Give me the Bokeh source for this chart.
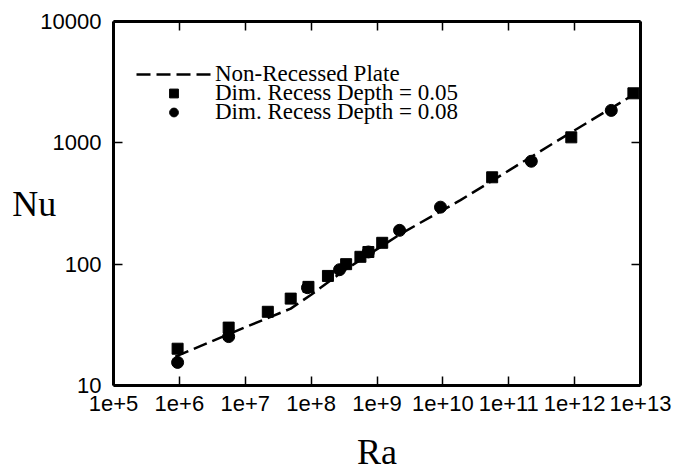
from bokeh.plotting import figure
from bokeh.models import Range1d, LogAxis, FixedTicker, Legend, LegendItem
from bokeh.embed import file_html
from bokeh.resources import INLINE

# Non-recessed plate correlation (dashed line)
ra_line = [8.7e5, 1.0e7, 4.9e7, 1.0e8, 3.3e8, 2.3e9, 1.85e10, 4.3e11, 8.9e12]
nu_line = [17.3, 30.2, 43, 56, 90, 178, 337, 960, 2600]

# Dim. recess depth = 0.05 (squares)
ra_sq = [9.4e5, 5.6e6, 2.2e7, 4.9e7, 9.1e7, 1.8e8, 3.4e8, 5.6e8, 7.4e8, 1.2e9, 5.6e10, 8.9e11, 7.8e12]
nu_sq = [20.1, 30, 40.5, 52, 65, 80, 100, 115, 126, 150, 520, 1110, 2560]

# Dim. recess depth = 0.08 (circles)
ra_ci = [9.4e5, 5.6e6, 8.8e7, 2.7e8, 7.4e8, 2.2e9, 9.2e9, 2.2e11, 3.6e12]
nu_ci = [15.5, 25.3, 64, 90, 126, 190, 295, 705, 1850]

x_ticks = [1e5, 1e6, 1e7, 1e8, 1e9, 1e10, 1e11, 1e12, 1e13]
x_tick_labels = ["1e+5", "1e+6", "1e+7", "1e+8", "1e+9", "1e+10", "1e+11", "1e+12", "1e+13"]
y_ticks = [10, 100, 1000, 10000]
y_tick_labels = ["10", "100", "1000", "10000"]
legend_labels = ["Non-Recessed Plate", "Dim. Recess Depth = 0.05", "Dim. Recess Depth = 0.08"]

p = figure(width=673, height=474, x_axis_type="log", y_axis_type="log",
           x_range=Range1d(1e5, 1e13), y_range=Range1d(10, 10000),
           output_backend="svg", toolbar_location=None,
           min_border_left=113, min_border_right=33, min_border_top=21, min_border_bottom=88)
p.background_fill_color = "white"
p.border_fill_color = "white"
p.outline_line_color = None
p.grid.visible = False

ln = p.line(ra_line, nu_line, line_color="black", line_width=2.5, line_dash="14 6")
sq = p.scatter(ra_sq, nu_sq, marker="square", size=11, fill_color="black", line_color="black")
ci = p.scatter(ra_ci, nu_ci, marker="circle", size=12, fill_color="black", line_color="black")

def style(ax, labels=True):
    ax.axis_line_width = 3
    ax.axis_line_color = "black"
    ax.major_tick_in = 9
    ax.major_tick_out = 0
    ax.major_tick_line_width = 1.5
    ax.minor_tick_line_color = None
    ax.major_label_text_font = "Liberation Sans"
    ax.major_label_text_font_size = "22px"
    ax.major_label_text_color = "black"
    if not labels:
        ax.major_label_text_font_size = "8px"
        ax.major_label_text_color = None
        ax.major_label_standoff = 0

xa = p.xaxis[0]
xa.ticker = FixedTicker(ticks=x_ticks)
xa.major_label_overrides = {t: l for t, l in zip(x_ticks, x_tick_labels)}
style(xa)
xa.major_label_standoff = 10
xa.axis_label = "Ra"
xa.axis_label_text_font = "Liberation Serif"
xa.axis_label_text_font_size = "36px"
xa.axis_label_text_font_style = "normal"
xa.axis_label_text_color = "black"
xa.axis_label_standoff = 18

ya = p.yaxis[0]
ya.ticker = FixedTicker(ticks=y_ticks)
ya.major_label_overrides = {t: l for t, l in zip(y_ticks, y_tick_labels)}
style(ya)
ya.major_label_standoff = 12
ya.axis_label = "Nu"
ya.axis_label_text_font = "Liberation Serif"
ya.axis_label_text_font_size = "36px"
ya.axis_label_text_font_style = "normal"
ya.axis_label_text_color = "black"
ya.axis_label_orientation = "horizontal"
ya.axis_label_text_baseline = "top"
ya.axis_label_standoff = -19

top = LogAxis(ticker=FixedTicker(ticks=x_ticks))
style(top, labels=False)
p.add_layout(top, "above")
right = LogAxis(ticker=FixedTicker(ticks=y_ticks))
style(right, labels=False)
p.add_layout(right, "right")

# one legend per row so the rows can sit as tightly as in the reference
for label, rend, ypos in zip(legend_labels, [ln, sq, ci], [298, 279, 260]):
    lg = Legend(items=[LegendItem(label=label, renderers=[rend])], location=(23, ypos))
    lg.background_fill_alpha = 0
    lg.border_line_color = None
    lg.label_text_font = "Liberation Serif"
    lg.label_text_font_size = "23px"
    lg.label_text_color = "black"
    lg.padding = 0
    lg.spacing = 0
    lg.glyph_width = 75
    lg.glyph_height = 22
    lg.label_height = 16
    lg.label_standoff = 4
    lg.margin = 0
    p.add_layout(lg, "center")

open("out.html", "w").write(file_html(p, INLINE))
